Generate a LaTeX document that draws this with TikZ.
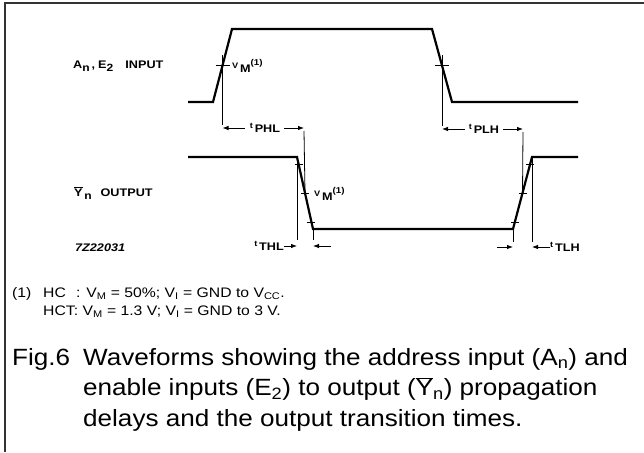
\documentclass[tikz,border=0pt]{standalone}
\usepackage{fontspec}
\setmainfont{Liberation Sans}
\newfontfamily\capfont[FakeStretch=1.11]{Liberation Sans}
\newfontfamily\notefont[FakeStretch=1.14]{Liberation Sans}
\newfontfamily\wavefont[FakeStretch=1.15]{Liberation Sans}
\usetikzlibrary{arrows.meta}
\newcommand{\dn}[1]{\textsubscript{#1}}
\newcommand{\ovY}{$\overline{\mbox{Y}}$}
\newcommand{\lo}[1]{\raisebox{-2.5pt}{\fontsize{10.5}{11}\selectfont #1}}
\newcommand{\tsym}[2]{\raisebox{2.5pt}{\fontsize{8}{9}\selectfont #1}\,\raisebox{-1.5pt}{#2}}

\begin{document}
\begin{tikzpicture}[x=1pt, y=-1pt,
    wave/.style={line width=2.2pt, line join=miter},
    guide/.style={line width=0.8pt},
    frame/.style={line width=1.8pt, black!80},
    dimarrow/.style={-{Latex[length=6pt,width=4.5pt]}, line width=0.8pt},
    siglabel/.style={font=\wavefont\fontsize{11}{12}\selectfont\bfseries, anchor=west, inner sep=0pt},
    timelabel/.style={font=\wavefont\fontsize{11}{12}\selectfont\bfseries, inner sep=0pt},
    note/.style={font=\notefont\fontsize{13.8}{18}\selectfont, anchor=base west, inner sep=0pt, align=left},
    caption/.style={font=\capfont\fontsize{23.5}{30.5}\selectfont, anchor=base west, inner sep=0pt, align=left}
]
    \useasboundingbox (0,0) rectangle (644,452);

    % --- frame ---
    \coordinate (fr_tr) at (644,3);
    \coordinate (fr_tl) at (5,3);
    \coordinate (fr_bl) at (5,452);
    \draw[frame] (fr_tr) -- (fr_tl) -- (fr_bl);

    % --- input waveform ---
    \coordinate (in_a) at (188,102);
    \coordinate (in_b) at (213,102);
    \coordinate (in_c) at (232,29);
    \coordinate (in_d) at (432,29);
    \coordinate (in_e) at (452,102);
    \coordinate (in_f) at (578,102);
    \draw[wave] (in_a) -- (in_b) -- (in_c) -- (in_d) -- (in_e) -- (in_f);

    % --- output waveform ---
    \coordinate (out_a) at (188,157);
    \coordinate (out_b) at (297,157);
    \coordinate (out_c) at (313,229);
    \coordinate (out_d) at (513,229);
    \coordinate (out_e) at (532,157);
    \coordinate (out_f) at (578,157);
    \draw[wave] (out_a) -- (out_b) -- (out_c) -- (out_d) -- (out_e) -- (out_f);

    % --- V_M crossings ---
    \coordinate (vm_rise) at (222.5,65);
    \coordinate (vm_fall) at (442,65);
    \coordinate (vm_ofall) at (305,193);
    \coordinate (vm_orise) at (522.5,193);
    \foreach \p in {vm_rise, vm_fall}
        \draw[guide] ([xshift=-7pt]\p) -- ([xshift=7pt]\p);
    \foreach \px/\py in {298.6/164, 305/193, 311.4/222, 515/222, 522.5/193, 530.2/164}
        \draw[guide] (\px-4,\py) -- (\px+4,\py);

    % --- t_PHL ---
    \coordinate (phl_top) at (222.5,55);
    \coordinate (phl_l) at (222.5,128);
    \coordinate (phl_r) at (304,128);
    \draw[guide] (phl_top) -- ([yshift=3pt]phl_l);
    \draw[guide] ([yshift=-3pt]phl_r) -- (vm_ofall);
    \node[timelabel] (phl_lbl) at (265,128) {\tsym{t}{PHL}};
    \draw[dimarrow] (phl_lbl.west) ++(-5pt,0) -- (phl_l);
    \draw[dimarrow] (phl_lbl.east) ++(4pt,0) -- (phl_r);

    % --- t_PLH ---
    \coordinate (plh_top) at (442,55);
    \coordinate (plh_l) at (442,129);
    \coordinate (plh_r) at (523,129);
    \draw[guide] (plh_top) -- ([yshift=3pt]plh_l);
    \draw[guide] ([yshift=-3pt]plh_r) -- (vm_orise);
    \node[timelabel] (plh_lbl) at (484,129) {\tsym{t}{PLH}};
    \draw[dimarrow] (plh_lbl.west) ++(-4pt,0) -- (plh_l);
    \draw[dimarrow] (plh_lbl.east) ++(4pt,0) -- (plh_r);

    % --- t_THL ---
    \coordinate (thl_l) at (297,246);
    \coordinate (thl_r) at (313,246);
    \draw[guide] (out_b) -- ([yshift=6pt]thl_l);
    \draw[guide] (out_c) -- ([yshift=6pt]thl_r);
    \node[timelabel, anchor=east] (thl_lbl) at (284,246) {\tsym{t}{THL}};
    \draw[dimarrow] (thl_lbl.east) -- (thl_l);
    \coordinate (thl_in) at (331,246);
    \draw[dimarrow] (thl_in) -- (thl_r);

    % --- t_TLH ---
    \coordinate (tlh_l) at (513,247);
    \coordinate (tlh_r) at (532,247);
    \draw[guide] (out_d) -- ([yshift=5pt]tlh_l);
    \draw[guide] (out_e) -- ([yshift=5pt]tlh_r);
    \coordinate (tlh_in) at (497,247);
    \draw[dimarrow] (tlh_in) -- (tlh_l);
    \node[timelabel, anchor=west] (tlh_lbl) at (550,247) {\tsym{t}{TLH}};
    \draw[dimarrow] (tlh_lbl.west) -- (tlh_r);

    % --- labels ---
    \node[timelabel, anchor=west] (vm1) at (232,66) {\tsym{V}{M}\raisebox{5pt}{\fontsize{8.5}{9}\selectfont(1)}};
    \node[timelabel, anchor=west] (vm2) at (314,194) {\tsym{V}{M}\raisebox{5pt}{\fontsize{8.5}{9}\selectfont(1)}};
    \node[siglabel] (in_lbl) at (73,66) {A\lo{n}\hspace{2pt},\hspace{3pt}E\lo{2}\hspace{1.1em}INPUT};
    \node[siglabel] (out_lbl) at (74,193) {\ovY\,\lo{n}\hspace{0.8em}OUTPUT};
    \node[siglabel, font=\wavefont\fontsize{11}{12}\selectfont\bfseries\itshape] (code) at (75,248) {7Z22031};

    % --- notes and caption ---
    \node[note] (note1) at (12,297) {\makebox[31pt][l]{(1)}\makebox[33pt][l]{HC}: V\dn{M} = 50\%; V\dn{I} = GND to V\dn{CC}.};
    \node[note] (note2) at (43,315) {HCT: V\dn{M} = 1.3 V; V\dn{I} = GND to 3 V.};
    \node[caption] (fignum) at (12,365) {Fig.6};
    \node[caption] (figtext) at (83,426) {Waveforms showing the address input (A\dn{n}) and\\enable inputs (E\dn{2}) to output (\ovY\dn{n}) propagation\\delays and the output transition times.};
\end{tikzpicture}
\end{document}
